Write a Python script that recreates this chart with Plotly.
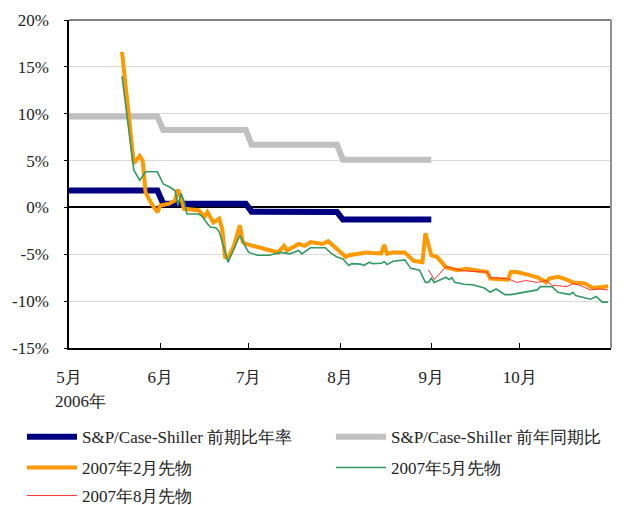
import plotly.graph_objects as go

# ---- data ----
idx_dates = ["2006-05-01", "2006-05-31", "2006-06-02", "2006-06-30", "2006-07-02",
             "2006-07-31", "2006-08-02", "2006-09-01"]
qoq_annual = [1.8, 1.8, 0.4, 0.4, -0.45, -0.5, -1.3, -1.3]
yoy = [9.7, 9.7, 8.25, 8.25, 6.7, 6.7, 5.1, 5.1]

feb_dates = ["2006-05-19", "2006-05-23", "2006-05-25", "2006-05-26", "2006-05-27", "2006-05-29",
             "2006-05-31", "2006-06-01", "2006-06-04", "2006-06-06", "2006-06-07", "2006-06-08",
             "2006-06-09", "2006-06-14", "2006-06-16", "2006-06-17", "2006-06-19", "2006-06-21",
             "2006-06-22", "2006-06-23", "2006-06-24", "2006-06-26", "2006-06-28", "2006-06-29",
             "2006-06-30", "2006-07-04", "2006-07-07", "2006-07-11", "2006-07-13", "2006-07-14",
             "2006-07-18", "2006-07-20", "2006-07-22", "2006-07-26", "2006-07-28", "2006-07-31",
             "2006-08-03", "2006-08-04", "2006-08-10", "2006-08-12", "2006-08-15", "2006-08-16",
             "2006-08-17", "2006-08-19", "2006-08-23", "2006-08-26", "2006-08-29", "2006-08-30",
             "2006-09-01", "2006-09-03", "2006-09-06", "2006-09-10", "2006-09-13", "2006-09-16",
             "2006-09-20", "2006-09-21", "2006-09-25", "2006-09-27", "2006-09-28", "2006-09-30",
             "2006-10-04", "2006-10-07", "2006-10-09", "2006-10-10", "2006-10-11", "2006-10-14",
             "2006-10-17", "2006-10-19", "2006-10-23", "2006-10-26", "2006-10-29", "2006-10-31"]
feb_fut = [16.6, 4.7, 5.5, 5.0, 1.6, 0.4,
           -0.5, 0.2, 0.4, 0.75, 1.9, 1.1,
           -0.15, -0.3, -1.0, -0.5, -1.6, -1.2,
           -2.3, -5.3, -5.4, -4.1, -1.9, -3.7,
           -3.9, -4.2, -4.5, -4.8, -4.1, -4.6,
           -3.9, -4.1, -3.7, -3.9, -3.6, -4.4,
           -5.3, -5.1, -4.8, -4.85, -4.9, -4.0,
           -4.95, -4.8, -4.8, -5.7, -5.85, -2.75,
           -5.1, -5.3, -6.4, -6.7, -6.55, -6.7,
           -6.9, -7.6, -7.6, -7.7, -6.9, -6.9,
           -7.2, -7.45, -7.8, -8.0, -7.6, -7.4,
           -7.7, -8.0, -8.1, -8.6, -8.5, -8.4]

may_dates = ["2006-05-19", "2006-05-23", "2006-05-25", "2006-05-27", "2006-05-31", "2006-06-02",
             "2006-06-04", "2006-06-06", "2006-06-07", "2006-06-08", "2006-06-09", "2006-06-10",
             "2006-06-14", "2006-06-15", "2006-06-17", "2006-06-18", "2006-06-20", "2006-06-21",
             "2006-06-24", "2006-06-26", "2006-06-28", "2006-06-30", "2006-07-01", "2006-07-04",
             "2006-07-08", "2006-07-12", "2006-07-15", "2006-07-18", "2006-07-19", "2006-07-22",
             "2006-07-27", "2006-07-29", "2006-07-31", "2006-08-02", "2006-08-04", "2006-08-05",
             "2006-08-08", "2006-08-09", "2006-08-11", "2006-08-12", "2006-08-15", "2006-08-16",
             "2006-08-17", "2006-08-19", "2006-08-23", "2006-08-25", "2006-08-28", "2006-08-30",
             "2006-08-31", "2006-09-01", "2006-09-02", "2006-09-06", "2006-09-07", "2006-09-08",
             "2006-09-09", "2006-09-12", "2006-09-15", "2006-09-19", "2006-09-21", "2006-09-23",
             "2006-09-26", "2006-09-28", "2006-10-03", "2006-10-05", "2006-10-07", "2006-10-08",
             "2006-10-12", "2006-10-14", "2006-10-18", "2006-10-19", "2006-10-20", "2006-10-25",
             "2006-10-27", "2006-10-29", "2006-10-31"]
may_fut = [14.0, 4.0, 2.9, 3.8, 3.8, 2.5,
           2.2, 1.8, 0.2, 1.5, 0.75, -0.7,
           -0.7, -0.9, -1.75, -2.1, -2.2, -2.6,
           -5.85, -4.4, -3.0, -4.25, -4.8, -5.1,
           -5.1, -4.8, -4.95, -4.6, -4.95, -4.3,
           -4.3, -4.9, -5.3, -5.5, -6.2, -6.0,
           -6.05, -6.2, -5.85, -6.0, -5.95, -5.8,
           -6.1, -5.75, -5.6, -6.5, -6.7, -8.0,
           -8.0, -7.55, -8.0, -7.45, -7.7, -7.5,
           -8.0, -8.2, -8.25, -8.6, -9.05, -8.7,
           -9.3, -9.3, -9.05, -8.9, -8.8, -8.45,
           -8.45, -9.05, -9.3, -9.05, -9.4, -9.8,
           -9.5, -10.1, -10.1]

aug_dates = ["2006-08-31", "2006-09-02", "2006-09-06", "2006-09-10", "2006-09-13", "2006-09-20",
             "2006-09-21", "2006-09-27", "2006-09-30", "2006-10-03", "2006-10-07", "2006-10-10",
             "2006-10-12", "2006-10-17", "2006-10-19", "2006-10-21", "2006-10-25", "2006-10-28",
             "2006-10-31"]
aug_fut = [-6.65, -7.7, -6.3, -6.65, -6.8, -6.9,
           -7.5, -7.6, -8.0, -7.8, -8.0, -7.8,
           -8.3, -8.45, -8.15, -8.25, -8.8, -8.7,
           -8.8]

x_tickvals = ["2006-05-01", "2006-06-01", "2006-07-01", "2006-08-01", "2006-09-01", "2006-10-01"]
x_ticktext = ["5月", "6月", "7月", "8月", "9月", "10月"]
y_tickvals = [20, 15, 10, 5, 0, -5, -10, -15]
y_ticktext = ["20%", "15%", "10%", "5%", "0%", "-5%", "-10%", "-15%"]

FONT = "Liberation Serif, serif"
TXT = "#222"

fig = go.Figure()
fig.add_trace(go.Scatter(x=idx_dates, y=qoq_annual, mode="lines",
                         name="S&P/Case-Shiller 前期比年率", legend="legend",
                         line=dict(color="#000080", width=6)))
fig.add_trace(go.Scatter(x=idx_dates, y=yoy, mode="lines",
                         name="S&P/Case-Shiller 前年同期比", legend="legend2",
                         line=dict(color="#c0c0c0", width=6)))
fig.add_trace(go.Scatter(x=feb_dates, y=feb_fut, mode="lines",
                         name="2007年2月先物", legend="legend3",
                         line=dict(color="#ff9900", width=4)))
fig.add_trace(go.Scatter(x=may_dates, y=may_fut, mode="lines",
                         name="2007年5月先物", legend="legend4",
                         line=dict(color="#339966", width=1.6)))
fig.add_trace(go.Scatter(x=aug_dates, y=aug_fut, mode="lines",
                         name="2007年8月先物", legend="legend5",
                         line=dict(color="#ff3333", width=1)))

leg_common = dict(orientation="h", xref="container", yref="container",
                  yanchor="top", xanchor="left", itemwidth=50,
                  font=dict(family=FONT, size=17, color=TXT),
                  bgcolor="rgba(0,0,0,0)")
col_x = [0.035, 0.527]
row_y = [0.170, 0.109, 0.0535]

fig.update_layout(
    width=628, height=505,
    margin=dict(l=69, r=17, t=20, b=157),
    paper_bgcolor="white", plot_bgcolor="white",
    font=dict(family=FONT, size=17, color=TXT),
    showlegend=True,
    legend=dict(x=col_x[0], y=row_y[0], **leg_common),
    legend2=dict(x=col_x[1], y=row_y[0], **leg_common),
    legend3=dict(x=col_x[0], y=row_y[1], **leg_common),
    legend4=dict(x=col_x[1], y=row_y[1], **leg_common),
    legend5=dict(x=col_x[0], y=row_y[2], **leg_common),
    xaxis=dict(type="date", range=["2006-05-01", "2006-11-01"],
               tickvals=x_tickvals, ticktext=x_ticktext,
               ticks="inside", ticklen=5, tickcolor="#000", tickwidth=1,
               showline=True, linecolor="#000", linewidth=1.5,
               showgrid=False, zeroline=False, ticklabelstandoff=13,
               tickfont=dict(family=FONT, size=17, color=TXT)),
    yaxis=dict(range=[-15, 20], tickvals=y_tickvals, ticktext=y_ticktext,
               ticks="outside", ticklen=3, tickcolor="#000",
               showline=True, linecolor="#000", linewidth=1.5,
               showgrid=True, gridcolor="#d9d9d9", gridwidth=1,
               zeroline=True, zerolinecolor="#000", zerolinewidth=1.5,
               ticklabelstandoff=12,
               tickfont=dict(family=FONT, size=17, color=TXT)),
    shapes=[
        dict(type="line", xref="paper", yref="paper", x0=0, x1=1, y0=1, y1=1,
             line=dict(color="#808080", width=2)),
        dict(type="line", xref="paper", yref="paper", x0=1, x1=1, y0=0, y1=1,
             line=dict(color="#909090", width=2)),
    ],
    annotations=[
        dict(text="2006年", xref="paper", yref="paper", x=0, y=0, xanchor="left",
             yanchor="top", xshift=-16, yshift=-42, showarrow=False,
             font=dict(family=FONT, size=17, color=TXT)),
    ],
)

fig.write_html("out.html")
